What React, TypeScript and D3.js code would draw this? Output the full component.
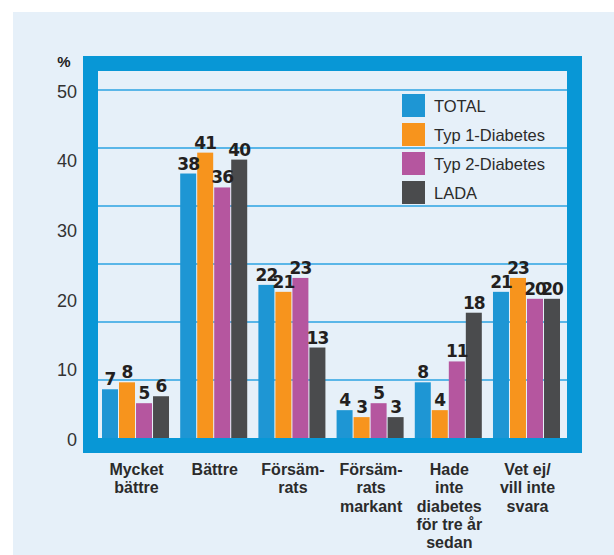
import React from "react";
import * as d3 from "d3";

const categories = [
  ["Mycket", "bättre"],
  ["Bättre"],
  ["Försäm-", "rats"],
  ["Försäm-", "rats", "markant"],
  ["Hade", "inte", "diabetes", "för tre år", "sedan"],
  ["Vet ej/", "vill inte", "svara"],
];
const categoryKeys = categories.map((c) => c.join(" "));
const seriesNames = ["TOTAL", "Typ 1-Diabetes", "Typ 2-Diabetes", "LADA"];
const seriesColors = ["#1e96d4", "#f7941d", "#b5569f", "#4a4b4d"];
const totalValues = [7, 38, 22, 4, 8, 21];
const typ1Values = [8, 41, 21, 3, 4, 23];
const typ2Values = [5, 36, 23, 5, 11, 20];
const ladaValues = [6, 40, 13, 3, 18, 20];
const yTicks = [0, 10, 20, 30, 40, 50];

const seriesValues = [totalValues, typ1Values, typ2Values, ladaValues];

export default function App() {
  const W = 614;
  const H = 555;
  const inner = { left: 98, top: 71, right: 567, bottom: 438 };
  const frameW = 15;
  const y = d3.scaleLinear().domain([0, 50]).range([inner.bottom, 90]);
  const x0 = d3
    .scaleBand<string>()
    .domain(categoryKeys)
    .range([inner.left + 4, inner.right - 7])
    .paddingInner(0.143)
    .paddingOuter(0);
  const x1 = d3
    .scaleBand<string>()
    .domain(seriesNames)
    .range([0, x0.bandwidth()])
    .paddingInner(0.06);
  const gridVals = d3.range(1, 7).map((k) => (50 * k) / 6);
  const font = "'Liberation Sans', Arial, sans-serif";

  return (
    <svg
      width={W}
      height={H}
      style={{ position: "absolute", left: 0, top: 0, background: "#fff" }}
    >
      <rect x={13} y={12} width={W - 13} height={H - 12} fill="#e6f0f9" />
      {/* frame */}
      <rect
        x={inner.left - frameW / 2}
        y={inner.top - frameW / 2}
        width={inner.right - inner.left + frameW}
        height={inner.bottom - inner.top + frameW}
        fill="none"
        stroke="#0897d6"
        strokeWidth={frameW}
      />
      {/* gridlines */}
      {gridVals.map((v, i) => (
        <line
          key={i}
          x1={inner.left}
          x2={inner.right}
          y1={y(v)}
          y2={y(v)}
          stroke="#2ba3e2"
          strokeWidth={1.5}
        />
      ))}
      {/* y tick labels */}
      {yTicks.map((t) => (
        <text
          key={t}
          x={77}
          y={y(t) + 3}
          textAnchor="end"
          dominantBaseline="middle"
          fontFamily={font}
          fontSize={18}
          fill="#333"
        >
          {t}
        </text>
      ))}
      <text
        x={64}
        y={67}
        textAnchor="middle"
        fontFamily={font}
        fontWeight="bold"
        fontSize={15}
        fill="#222"
      >
        %
      </text>
      {/* bars */}
      {categoryKeys.map((c, ci) => (
        <g key={c} transform={`translate(${x0(c)},0)`}>
          {seriesNames.map((s, si) => {
            const v = seriesValues[si][ci];
            return (
              <rect
                key={s}
                x={x1(s)}
                y={y(v)}
                width={x1.bandwidth()}
                height={y(0) - y(v)}
                fill={seriesColors[si]}
              />
            );
          })}
          {seriesNames.map((s, si) => {
            const v = seriesValues[si][ci];
            return (
              <text
                key={s}
                x={(x1(s) as number) + x1.bandwidth() / 2}
                y={y(v) - 4}
                textAnchor="middle"
                fontFamily="'DejaVu Sans', sans-serif"
                fontWeight="bold"
                fontSize={17}
                fill="#231f20"
                letterSpacing={-1}
              >
                {v}
              </text>
            );
          })}
        </g>
      ))}
      {/* category labels */}
      {categories.map((lines, ci) => (
        <text
          key={ci}
          x={(x0(categoryKeys[ci]) as number) + x0.bandwidth() / 2 + 1}
          y={475}
          textAnchor="middle"
          fontFamily={font}
          fontWeight="bold"
          fontSize={16}
          fill="#2b2b2b"
        >
          {lines.map((l, li) => (
            <tspan key={li} x={(x0(categoryKeys[ci]) as number) + x0.bandwidth() / 2 + 1} dy={li === 0 ? 0 : 18.3}>
              {l}
            </tspan>
          ))}
        </text>
      ))}
      {/* legend */}
      {seriesNames.map((s, i) => (
        <g key={s} transform={`translate(402,${94 + i * 29})`}>
          <rect width={23} height={23} fill={seriesColors[i]} />
          <text
            x={32}
            y={17.5}
            fontFamily={font}
            fontSize={16.5}
            fill="#2b2b2b"
          >
            {s}
          </text>
        </g>
      ))}
    </svg>
  );
}
